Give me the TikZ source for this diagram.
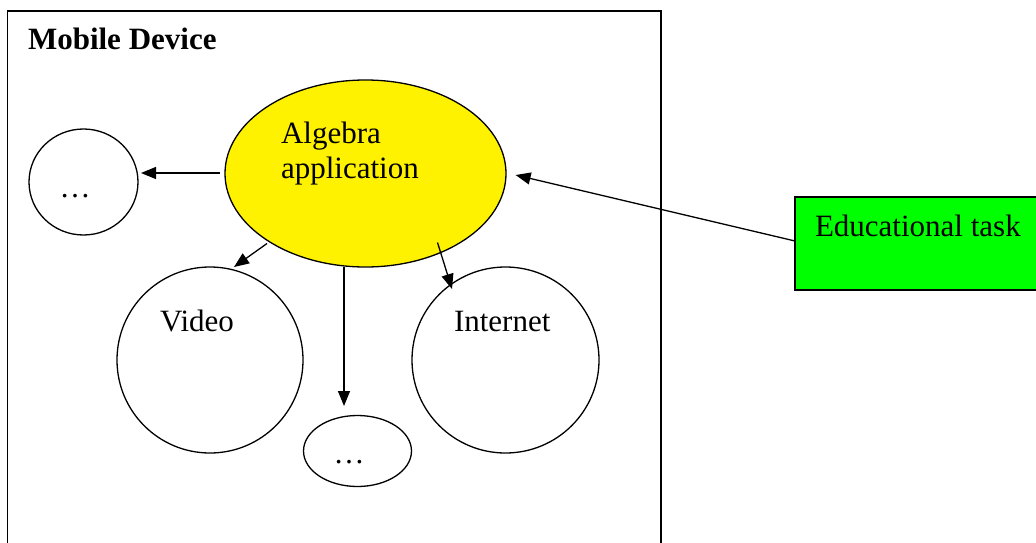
\documentclass[tikz,border=0pt]{standalone}
\usepackage{fontspec}
\setmainfont{Liberation Serif}
\usetikzlibrary{shapes.geometric,arrows.meta}
\begin{document}
\begin{tikzpicture}[x=1pt,y=-1pt,
  every node/.style={inner sep=0pt, outer sep=0pt},
  txt/.style={font=\fontsize{31}{35}\selectfont, anchor=base west},
  oval/.style={draw, ellipse, line width=1.3pt},
  arr/.style={line width=1.3pt, -{Triangle[length=15pt,width=12pt]}}]
\useasboundingbox (0,0) rectangle (1036,543);
\clip (0,0) rectangle (1036,543);
\fill[white] (0,0) rectangle (1036,543);
% outer device frame
\node[draw, line width=1.3pt, anchor=north west, minimum width=653.5pt, minimum height=570pt] (dev) at (7.5,11) {};
% shapes
\node[oval, fill=yellow, minimum width=281pt, minimum height=187pt] (alg) at (365.5,173.5) {};
\node[oval, minimum width=109pt, minimum height=106pt] (dotsL) at (83.5,182) {};
\node[oval, minimum width=186pt, minimum height=186pt] (video) at (210,360) {};
\node[oval, minimum width=187pt, minimum height=186pt] (inet) at (505.5,360) {};
\node[oval, minimum width=108pt, minimum height=71pt] (dotsB) at (357.5,451) {};
\node[draw, line width=1.5pt, fill=green, anchor=north west, minimum width=270pt, minimum height=93pt] (edu) at (795,197) {};
% texts
\node[txt, font=\fontsize{31}{35}\selectfont\bfseries] (tMob) at (28,50) {Mobile Device};
\node[txt] (tAlg) at (281,143.3) {Algebra};
\node[txt] (tApp) at (281,178) {application};
\node[txt, anchor=base] (tDL) at (75,197) {…};
\node[txt] (tVid) at (160,331) {Video};
\node[txt] (tInt) at (454,331) {Internet};
\node[txt, anchor=base] (tDB) at (349,463.5) {…};
\node[txt] (tEdu) at (815,236.7) {Educational task};
% connector end points
\coordinate (a1) at (220,173);   \coordinate (a2) at (141,173);
\coordinate (b1) at (267,243.5); \coordinate (b2) at (234,267);
\coordinate (c1) at (344,267);   \coordinate (c2) at (344,406);
\coordinate (d1) at (437.5,242.5); \coordinate (d2) at (452,289);
\coordinate (e1) at (795,241);   \coordinate (e2) at (515.6,175);
% connectors
\draw[arr] (a1) -- (a2);
\draw[arr] (b1) -- (b2);
\draw[arr] (c1) -- (c2);
\draw[arr] (d1) -- (d2);
\draw[arr] (e1) -- (e2);
\end{tikzpicture}
\end{document}
